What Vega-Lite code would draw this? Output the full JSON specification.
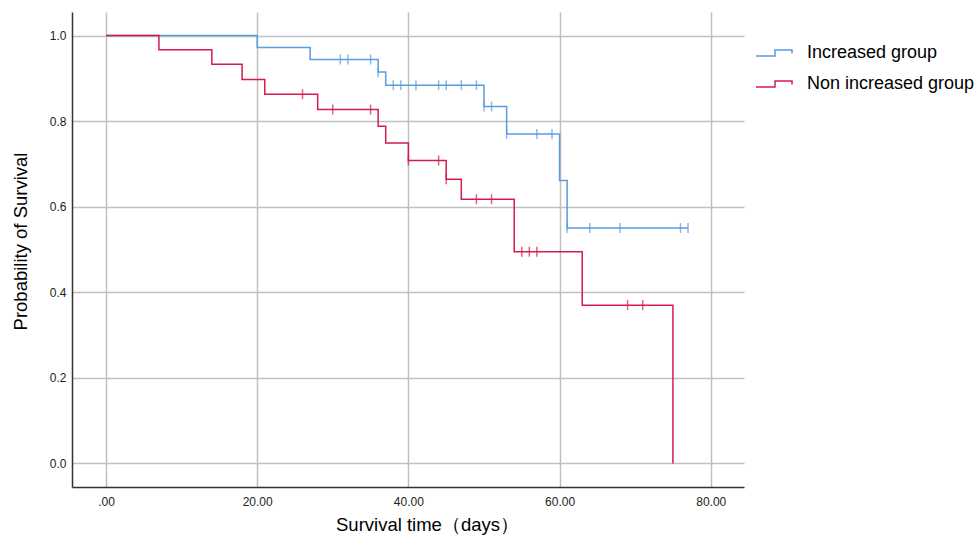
{
  "$schema": "https://vega.github.io/schema/vega-lite/v6.json",
  "width": 672,
  "height": 475,
  "autosize": {"type": "none"},
  "padding": {"left": 72, "top": 12, "right": 232, "bottom": 49},
  "background": "white",
  "config": {"font": "Liberation Sans", "view": {"stroke": null}},
  "data": {
    "values": [
      {"group": "Increased group", "t": 0, "s": 1.0, "c": 0},
      {"group": "Increased group", "t": 20, "s": 0.972, "c": 0},
      {"group": "Increased group", "t": 27, "s": 0.944, "c": 0},
      {"group": "Increased group", "t": 31, "s": 0.944, "c": 1},
      {"group": "Increased group", "t": 32, "s": 0.944, "c": 1},
      {"group": "Increased group", "t": 35, "s": 0.944, "c": 1},
      {"group": "Increased group", "t": 36, "s": 0.915, "c": 0},
      {"group": "Increased group", "t": 36, "s": 0.915, "c": 1},
      {"group": "Increased group", "t": 37, "s": 0.884, "c": 0},
      {"group": "Increased group", "t": 38, "s": 0.884, "c": 1},
      {"group": "Increased group", "t": 39, "s": 0.884, "c": 1},
      {"group": "Increased group", "t": 41, "s": 0.884, "c": 1},
      {"group": "Increased group", "t": 44, "s": 0.884, "c": 1},
      {"group": "Increased group", "t": 45, "s": 0.884, "c": 1},
      {"group": "Increased group", "t": 47, "s": 0.884, "c": 1},
      {"group": "Increased group", "t": 49, "s": 0.884, "c": 1},
      {"group": "Increased group", "t": 50, "s": 0.834, "c": 0},
      {"group": "Increased group", "t": 50, "s": 0.834, "c": 1},
      {"group": "Increased group", "t": 51, "s": 0.834, "c": 1},
      {"group": "Increased group", "t": 53, "s": 0.770, "c": 0},
      {"group": "Increased group", "t": 53, "s": 0.770, "c": 1},
      {"group": "Increased group", "t": 57, "s": 0.770, "c": 1},
      {"group": "Increased group", "t": 59, "s": 0.770, "c": 1},
      {"group": "Increased group", "t": 60, "s": 0.661, "c": 0},
      {"group": "Increased group", "t": 61, "s": 0.550, "c": 0},
      {"group": "Increased group", "t": 61, "s": 0.550, "c": 1},
      {"group": "Increased group", "t": 64, "s": 0.550, "c": 1},
      {"group": "Increased group", "t": 68, "s": 0.550, "c": 1},
      {"group": "Increased group", "t": 76, "s": 0.550, "c": 1},
      {"group": "Increased group", "t": 77, "s": 0.550, "c": 1},
      {"group": "Non increased group", "t": 0, "s": 1.0, "c": 0},
      {"group": "Non increased group", "t": 7, "s": 0.967, "c": 0},
      {"group": "Non increased group", "t": 14, "s": 0.933, "c": 0},
      {"group": "Non increased group", "t": 18, "s": 0.897, "c": 0},
      {"group": "Non increased group", "t": 21, "s": 0.863, "c": 0},
      {"group": "Non increased group", "t": 26, "s": 0.863, "c": 1},
      {"group": "Non increased group", "t": 28, "s": 0.827, "c": 0},
      {"group": "Non increased group", "t": 30, "s": 0.827, "c": 1},
      {"group": "Non increased group", "t": 35, "s": 0.827, "c": 1},
      {"group": "Non increased group", "t": 36, "s": 0.788, "c": 0},
      {"group": "Non increased group", "t": 37, "s": 0.749, "c": 0},
      {"group": "Non increased group", "t": 40, "s": 0.708, "c": 0},
      {"group": "Non increased group", "t": 40, "s": 0.708, "c": 1},
      {"group": "Non increased group", "t": 44, "s": 0.708, "c": 1},
      {"group": "Non increased group", "t": 45, "s": 0.664, "c": 0},
      {"group": "Non increased group", "t": 45, "s": 0.664, "c": 1},
      {"group": "Non increased group", "t": 47, "s": 0.6175, "c": 0},
      {"group": "Non increased group", "t": 49, "s": 0.6175, "c": 1},
      {"group": "Non increased group", "t": 51, "s": 0.6175, "c": 1},
      {"group": "Non increased group", "t": 54, "s": 0.495, "c": 0},
      {"group": "Non increased group", "t": 55, "s": 0.495, "c": 1},
      {"group": "Non increased group", "t": 56, "s": 0.495, "c": 1},
      {"group": "Non increased group", "t": 57, "s": 0.495, "c": 1},
      {"group": "Non increased group", "t": 63, "s": 0.370, "c": 0},
      {"group": "Non increased group", "t": 69, "s": 0.370, "c": 1},
      {"group": "Non increased group", "t": 71, "s": 0.370, "c": 1},
      {"group": "Non increased group", "t": 75, "s": 0.0, "c": 0}
    ]
  },
  "encoding": {
    "x": {
      "field": "t",
      "type": "quantitative",
      "scale": {"domain": [-4.5, 84.4], "nice": false, "zero": false},
      "axis": {
        "values": [0, 20, 40, 60, 80],
        "labelExpr": "datum.value == 0 ? '.00' : format(datum.value, '.2f')",
        "title": "Survival time（days）",
        "titleFontSize": 18.5,
        "titleFontWeight": "normal",
        "titleColor": "#000000",
        "titlePadding": 8,
        "titleX": 355,
        "labelFontSize": 12,
        "labelColor": "#222222",
        "labelPadding": 9,
        "labelFlush": false,
        "ticks": false,
        "domainColor": "#333333",
        "domainWidth": 1.5,
        "grid": true,
        "gridColor": "#c0c0c0",
        "gridWidth": 1.5
      }
    },
    "y": {
      "field": "s",
      "type": "quantitative",
      "scale": {"domain": [-0.055, 1.055], "nice": false, "zero": false},
      "axis": {
        "values": [0, 0.2, 0.4, 0.6, 0.8, 1.0],
        "format": ".1f",
        "title": "Probability of Survival",
        "titleFontSize": 18.5,
        "titleFontWeight": "normal",
        "titleColor": "#000000",
        "titlePadding": 19,
        "titleY": 229,
        "labelFontSize": 12,
        "labelColor": "#222222",
        "labelPadding": 6,
        "ticks": false,
        "domainColor": "#333333",
        "domainWidth": 1.5,
        "grid": true,
        "gridColor": "#c0c0c0",
        "gridWidth": 1.5
      }
    },
    "color": {
      "field": "group",
      "type": "nominal",
      "scale": {
        "domain": ["Increased group", "Non increased group"],
        "range": ["#5b9bdf", "#d41c4b"]
      },
      "legend": {
        "orient": "none",
        "legendX": 691,
        "legendY": 30,
        "title": null,
        "padding": 0,
        "symbolType": "M-1.8,0.3H0.1V-0.3H1.8V0.05",
        "symbolSize": 400,
        "symbolStrokeWidth": 1.5,
        "labelFontSize": 18,
        "labelColor": "#000000",
        "labelOffset": 22,
        "labelLimit": 400,
        "rowPadding": 11,
        "encode": {
          "symbols": {
            "update": {
              "fill": {"value": "transparent"},
              "fillOpacity": {"value": 0},
              "stroke": {"scale": "color", "field": "value"},
              "strokeWidth": {"value": 1.5},
              "opacity": {"value": 1}
            }
          }
        }
      }
    }
  },
  "layer": [
    {
      "transform": [{"filter": "datum.group == 'Increased group'"}],
      "mark": {"type": "line", "interpolate": "step-after", "strokeWidth": 1.5}
    },
    {
      "transform": [{"filter": "datum.group == 'Non increased group'"}],
      "mark": {"type": "line", "interpolate": "step-after", "strokeWidth": 1.5}
    },
    {
      "transform": [{"filter": "datum.c == 1"}],
      "mark": {"type": "tick", "orient": "vertical", "size": 10, "thickness": 1.5}
    }
  ]
}
